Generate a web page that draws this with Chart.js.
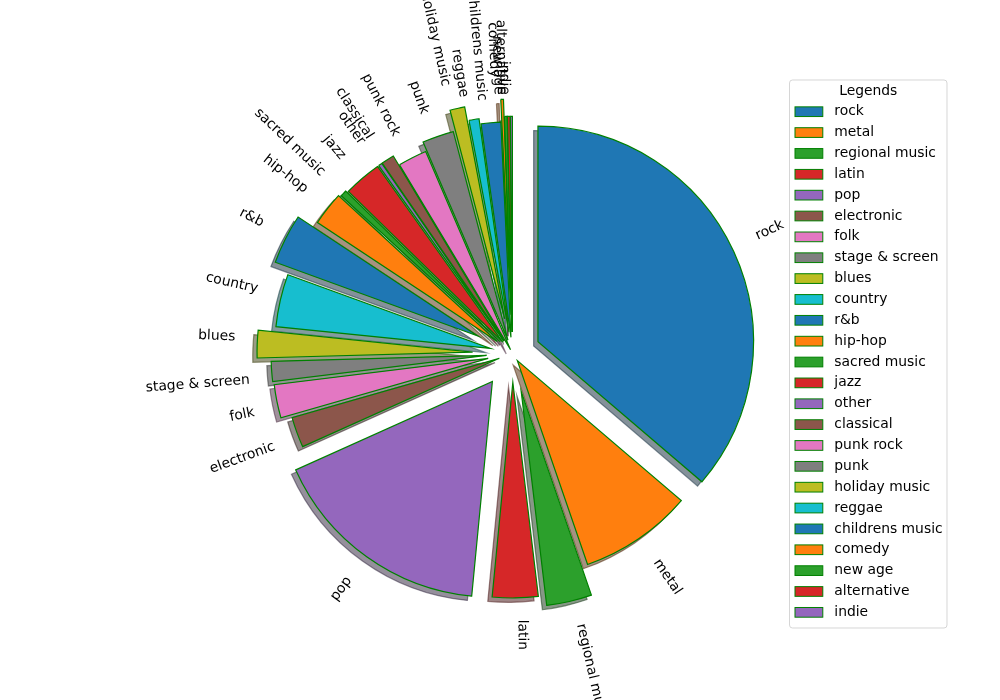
<!DOCTYPE html>
<html>
<head>
<meta charset="utf-8">
<script src="https://cdn.jsdelivr.net/npm/chart.js@4.4.0/dist/chart.umd.min.js"></script>
<style>
    html, body { margin: 0; padding: 0; background: #fff; }
    #wrap { width: 1000px; height: 700px; }
</style>
</head>
<body>
<div id="wrap"><canvas id="pie" width="1000" height="700"></canvas></div>
<script>
// genres, clockwise from 12 o'clock
const genres = ['rock', 'metal', 'regional music', 'latin', 'pop', 'electronic', 'folk',
    'stage & screen', 'blues', 'country', 'r&b', 'hip-hop', 'sacred music', 'jazz', 'other',
    'classical', 'punk rock', 'punk', 'holiday music', 'reggae', 'childrens music', 'comedy',
    'new age', 'alternative', 'indie'];

// share of each genre (percent)
const shares = [36.25, 8.47, 3.39, 3.42, 16.75, 2.28, 2.5,
    1.5, 2.05, 3.95, 3.75, 2.52, 0.48, 2.83, 0.28,
    0.97, 2.17, 2.36, 1.11, 0.75, 1.47, 0.2,
    0.2, 0.2, 0.15];

// how far each wedge is pulled out, as a fraction of the radius
const explode = [0.13, 0.04, 0.18, 0.134, 0.16, 0.065, 0.115,
    0.12, 0.185, 0.105, 0.18, 0.09, 0.08, 0.07, 0.07,
    0.07, 0.02, 0.065, 0.165, 0.1, 0.075, 0.18,
    0.1, 0.1, 0.1];

const tab10 = ['#1f77b4', '#ff7f0e', '#2ca02c', '#d62728', '#9467bd',
    '#8c564b', '#e377c2', '#7f7f7f', '#bcbd22', '#17becf'];
const sliceColors = genres.map((g, i) => tab10[i % 10]);

const FONT_PX = 13.89;
const FONT = FONT_PX + 'px "DejaVu Sans", sans-serif';
const RADIUS = 215.6;

function shadowOf(hex) {
    const r = parseInt(hex.substr(1, 2), 16) * 0.3;
    const g = parseInt(hex.substr(3, 2), 16) * 0.3;
    const b = parseInt(hex.substr(5, 2), 16) * 0.3;
    return `rgba(${r.toFixed(0)}, ${g.toFixed(0)}, ${b.toFixed(0)}, 0.5)`;
}

// 1. EXPLODE: move each arc out along its middle angle
const explodePlugin = {
    id: 'explode',
    afterDatasetsUpdate(chart) {
        const meta = chart.getDatasetMeta(0);
        meta.data.forEach((el, i) => {
            const mid = (el.startAngle + el.endAngle) / 2;
            el.x += Math.cos(mid) * explode[i] * el.outerRadius;
            el.y += Math.sin(mid) * explode[i] * el.outerRadius;
        });
    }
};

// 2. SHADOWS: same arcs, shifted down-left, drawn under every wedge
const shadowPlugin = {
    id: 'shadows',
    beforeDatasetsDraw(chart) {
        const ctx = chart.ctx;
        const meta = chart.getDatasetMeta(0);
        const d = 0.02 * RADIUS;
        meta.data.forEach((el, i) => {
            const col = shadowOf(sliceColors[i]);
            const orig = el.options;
            el.options = Object.assign({}, orig, { backgroundColor: col, borderColor: col });
            ctx.save();
            ctx.translate(-d, d);
            el.draw(ctx, chart.chartArea);
            ctx.restore();
            el.options = orig;
        });
    }
};

// 3. ROTATED LABELS outside the wedges
// the rotated text box is aligned to the anchor (left/right, top/bottom)
const labelPlugin = {
    id: 'sliceLabels',
    afterDatasetsDraw(chart) {
        const ctx = chart.ctx;
        const meta = chart.getDatasetMeta(0);
        const cx = (chart.chartArea.left + chart.chartArea.right) / 2;
        const cy = (chart.chartArea.top + chart.chartArea.bottom) / 2;
        const asc = 0.76 * FONT_PX, desc = 0.21 * FONT_PX;
        ctx.save();
        ctx.font = FONT;
        ctx.fillStyle = '#000';
        ctx.textAlign = 'left';
        ctx.textBaseline = 'alphabetic';
        meta.data.forEach((el, i) => {
            const mid = (el.startAngle + el.endAngle) / 2;
            const x = el.x + Math.cos(mid) * 1.1 * el.outerRadius;
            const y = el.y + Math.sin(mid) * 1.1 * el.outerRadius;
            const right = x - cx > 0;
            const above = cy - y > 0;
            const rot = right ? -mid : -mid + Math.PI;
            const a = -rot;
            const w = ctx.measureText(genres[i]).width;
            const pts = [[0, -asc], [w, -asc], [0, desc], [w, desc]].map(p => [
                p[0] * Math.cos(a) - p[1] * Math.sin(a),
                p[0] * Math.sin(a) + p[1] * Math.cos(a)
            ]);
            const xs = pts.map(p => p[0]), ys = pts.map(p => p[1]);
            const ox = x - (right ? Math.min(...xs) : Math.max(...xs));
            const oy = y - (above ? Math.max(...ys) : Math.min(...ys));
            ctx.save();
            ctx.translate(ox, oy);
            ctx.rotate(a);
            ctx.fillText(genres[i], 0, 0);
            ctx.restore();
        });
        ctx.restore();
    }
};

// 4. LEGEND BOX on the right
const legendPlugin = {
    id: 'legendBox',
    afterDraw(chart) {
        const ctx = chart.ctx;
        const box = { left: 789.5, top: 80, right: 947, bottom: 628 };
        ctx.save();
        ctx.beginPath();
        ctx.roundRect(box.left, box.top, box.right - box.left, box.bottom - box.top, 3);
        ctx.fillStyle = 'rgba(255,255,255,0.8)';
        ctx.fill();
        ctx.strokeStyle = 'rgba(204,204,204,0.8)';
        ctx.lineWidth = 1;
        ctx.stroke();

        ctx.font = FONT;
        ctx.fillStyle = '#000';
        ctx.textBaseline = 'middle';
        ctx.textAlign = 'center';
        ctx.fillText('Legends', (box.left + box.right) / 2, 91);

        ctx.textAlign = 'left';
        genres.forEach((g, i) => {
            const y = 111.7 + i * 20.86;
            ctx.fillStyle = sliceColors[i];
            ctx.fillRect(795, y - 4.85, 27.8, 9.7);
            ctx.strokeStyle = '#008000';
            ctx.lineWidth = 1;
            ctx.strokeRect(795, y - 4.85, 27.8, 9.7);
            ctx.fillStyle = '#000';
            ctx.fillText(g, 834.3, y);
        });
        ctx.restore();
    }
};

new Chart(document.getElementById('pie'), {
    type: 'pie',
    data: {
        labels: genres,
        datasets: [{
            data: shares,
            backgroundColor: sliceColors,
            borderColor: '#008000',
            borderWidth: 1.2,
            borderJoinStyle: 'miter',
            radius: RADIUS
        }]
    },
    options: {
        responsive: false,
        animation: false,
        events: [],
        rotation: 0,
        layout: { padding: { left: 25, top: 7, right: 0, bottom: 0 } },
        plugins: {
            legend: { display: false },
            tooltip: { enabled: false }
        }
    },
    plugins: [explodePlugin, shadowPlugin, labelPlugin, legendPlugin]
});
</script>
</body>
</html>
